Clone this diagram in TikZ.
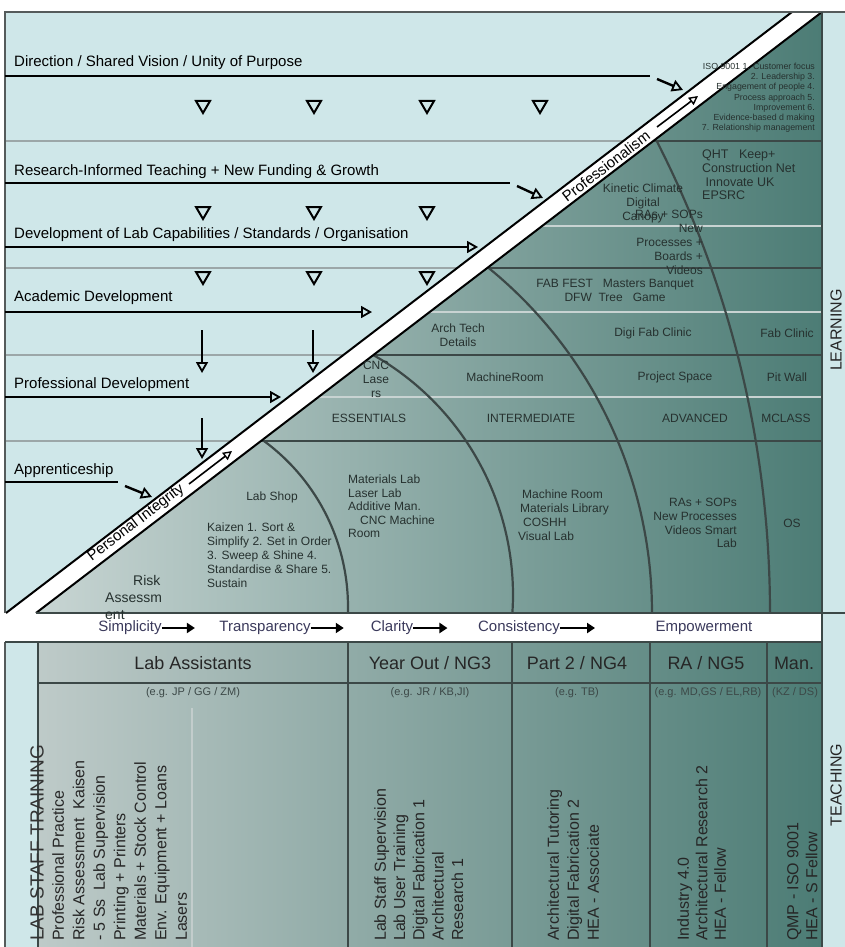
\documentclass[tikz,border=0pt]{standalone}
\usepackage{fontspec}
\setmainfont{Liberation Sans}
\usetikzlibrary{arrows.meta}
\definecolor{cyanbg}{HTML}{CFE7E9}
\definecolor{grayline}{HTML}{9CA7A8}
\definecolor{darkline}{HTML}{3C4847}
\definecolor{lightline}{HTML}{C8D3D2}
\definecolor{tealL}{HTML}{C8D5D3}
\definecolor{tealR}{HTML}{4C7C75}
\definecolor{celltxt}{HTML}{26312F}
\definecolor{bandtxt}{HTML}{3B3A5C}
\definecolor{faint}{HTML}{C3CDCC}
\definecolor{frame}{HTML}{555B5B}
\newcommand{\fsz}[2]{\fontsize{#1}{#2}\selectfont}
\tikzset{
  lbl/.style={anchor=west, inner sep=0pt, font=\fsz{15}{18}, text=black},
  cell/.style={inner sep=0pt, font=\fsz{12}{14}, text=celltxt},
  arrline/.style={line width=2.4pt, -{Triangle[open, length=11pt, width=12pt, line width=1.8pt]}},
  plainline/.style={line width=2.4pt},
  gline/.style={grayline, line width=2.2pt},
  dline/.style={darkline, line width=2pt},
  lline/.style={lightline, line width=2.4pt},
  arcline/.style={darkline, line width=2.2pt},
  vmark/.pic={\draw[line width=2pt, line join=miter] (-7,-6) -- (7,-6) -- (0,6) -- cycle;},
  bandarrow/.style={line width=1.6pt, -{Triangle[open, length=9pt, width=9pt, line width=1.4pt]}},
  wbarrow/.style={line width=2.6pt, -{Triangle[length=8pt, width=10pt]}},
  wbtext/.style={inner sep=0pt, font=\fsz{15}{18}, text=bandtxt},
  vtext/.style={rotate=90, anchor=north west, align=left, inner sep=0pt, text=black!85},
  hdr/.style={inner sep=0pt, font=\fsz{18}{20}, text=black!85},
  eg/.style={inner sep=0pt, font=\fsz{11}{13}, text=darkline},
  bandtext/.style={rotate=37.3, inner sep=0pt, font=\fsz{15}{18}, text=black},
}
\begin{document}
\begin{tikzpicture}[x=1pt,y=-1pt]
\useasboundingbox (0,0) rectangle (845,947);
\fill[white] (0,0) rectangle (845,947);
\fill[cyanbg] (5,12) rectangle (845,947);

% triangle and bottom panel fills
\shade[left color=tealL, right color=tealR] (36,612) -- (822,13) -- (822,612) -- cycle;
\shade[left color=tealL!95!black, right color=tealR] (38,642) rectangle (822,947);

% horizontal lines in cyan region
\draw[gline] (5,141) -- (634,141);
\draw[gline] (5,268) -- (467,268);
\draw[gline] (5,355) -- (353,355);
\draw[gline] (5,441) -- (240,441);
% horizontal lines in triangle
\draw[dline] (644,141) -- (822,141);
\draw[dline] (477,268) -- (822,268);
\draw[dline] (363,355) -- (822,355);
\draw[dline] (250,441) -- (822,441);
\draw[lline] (532,226) -- (822,226);
\draw[lline] (420,312) -- (822,312);
\draw[lline] (308,397) -- (822,397);

% arcs
\draw[arcline] plot[domain=27.05:0, samples=30, smooth] ({-266+1036*cos(\x)},{612-1036*sin(\x)});
\draw[arcline] plot[domain=50.9:0, samples=30, smooth] ({208+444*cos(\x)},{612-444*sin(\x)});
\draw[arcline] plot[domain=60.5:-3.5, samples=30, smooth] ({237+276*cos(\x)},{595-276*sin(\x)});
\draw[arcline] plot[domain=54.1:-1.4, samples=30, smooth] ({142+206*cos(\x)},{607-206*sin(\x)});

% down markers
\foreach \mx in {203,314,427,540} \pic at (\mx,107) {vmark};
\foreach \mx in {203,314,427} \pic at (\mx,213) {vmark};
\foreach \mx in {203,314,427} \pic at (\mx,278) {vmark};

% white horizontal band
\fill[white] (5,613) rectangle (822,642);

% diagonal band
\fill[white] (6,613) -- (36,613) -- (822,12) -- (792,12) -- cycle;
\draw[black, line width=2pt] (6,613) -- (792,12);
\draw[black, line width=2pt] (36,613) -- (822,12);

% frame
\draw[frame, line width=2pt] (5,613) -- (5,12) -- (845,12);
\draw[frame, line width=2pt] (5,642) -- (5,947);
\draw[darkline, line width=2pt] (822,12) -- (822,947);
\draw[darkline, line width=1.6pt] (822,613) -- (845,613);
\draw[dline] (36,613) -- (822,613);
\draw[dline] (5,642) -- (822,642);
\draw[dline] (38,683) -- (822,683);
\foreach \cx in {38,348,512,650,767} \draw[dline] (\cx,642) -- (\cx,947);
\draw[faint, line width=2pt] (192,708) -- (192,947);

% cyan region labels and arrows
\node[lbl] (tDir) at (14,63) {Direction / Shared Vision / Unity of Purpose};
\node[lbl] (tRes) at (14,172) {Research-Informed Teaching + New Funding \& Growth};
\node[lbl] (tDev) at (14,235) {Development of Lab Capabilities / Standards / Organisation};
\node[lbl] (tAca) at (14,298) {Academic Development};
\node[lbl] (tPro) at (14,385) {Professional Development};
\node[lbl] (tApp) at (14,471) {Apprenticeship};

\draw[plainline] (5,76) -- (650,76);
\draw[arrline] (657,79) -- (683,90);
\draw[plainline] (5,183) -- (510,183);
\draw[arrline] (517,186) -- (543,198);
\draw[arrline] (5,247) -- (478,247);
\draw[arrline] (5,312) -- (372,312);
\draw[arrline] (5,397) -- (281,397);
\draw[plainline] (5,482) -- (118,482);
\draw[arrline] (125,486) -- (152,497);
\draw[arrline] (202,330) -- (202,373);
\draw[arrline] (313,330) -- (313,373);
\draw[arrline] (202,418) -- (202,459);

% band texts
\node[bandtext] (tProf) at (606,166) {Professionalism};
\node[bandtext] (tPI) at (136,523) {Personal Integrity};
\draw[bandarrow] (657,127) -- (698,96);
\draw[bandarrow] (189,484) -- (232,451);

% triangle cell texts
\node[inner sep=0pt, anchor=north east, align=right, font=\fsz{8.8}{10.2}, text=celltxt] (tIso) at (815,63)
  {ISO 9001 1. Customer focus\\2. Leadership 3.\\Engagement of people 4.\\Process approach 5.\\Improvement 6.\\Evidence-based d making\\7. Relationship management};
\node[cell, align=center] (tKin) at (643,203) {Kinetic Climate\\Digital\\Canopy};
\node[cell, anchor=north west, align=left, font=\fsz{12.5}{13.6}] (tQht) at (702,150) {QHT\ \ \ Keep+\\Construction Net\\\ Innovate UK\\EPSRC};
\node[cell, anchor=north east, align=right] (tRas) at (703,210) {RAs + SOPs\\New\\Processes +\\Boards +\\Videos};
\node[cell, align=center] (tFab) at (615,290) {FAB FEST\ \ \ Masters Banquet\\DFW\ \ Tree\ \ \ Game};
\node[cell, align=center] (tArch) at (458,335) {Arch Tech\\Details};
\node[cell] (tDigi) at (653,333) {Digi Fab Clinic};
\node[cell] (tFabC) at (787,333) {Fab Clinic};
\node[cell, align=center] (tCnc) at (376,379) {CNC\\Lase\\rs};
\node[cell] (tMach) at (505,377) {MachineRoom};
\node[cell] (tProj) at (675,377) {Project Space};
\node[cell] (tPit) at (787,377) {Pit Wall};
\node[cell] (tEss) at (369,418) {ESSENTIALS};
\node[cell] (tInt) at (531,418) {INTERMEDIATE};
\node[cell] (tAdv) at (695,418) {ADVANCED};
\node[cell] (tMcl) at (786,418) {MCLASS};
\node[cell] (tLab) at (272,497) {Lab Shop};
\node[cell, anchor=north west, align=left] (tKai) at (207,523)
  {Kaizen 1. Sort \&\\Simplify 2. Set in Order\\3. Sweep \& Shine 4.\\Standardise \& Share 5.\\Sustain};
\node[cell, anchor=north west, align=left, font=\fsz{14}{17}] (tRisk) at (105,575) {\hspace*{28pt}Risk\\Assessm\\ent};
\node[cell, anchor=north west, align=left, font=\fsz{12}{13.5}] (tMat) at (348,475)
  {Materials Lab\\Laser Lab\\Additive Man.\\\hspace*{12pt}CNC Machine\\Room};
\node[cell, anchor=north west, align=left, font=\fsz{12}{13.7}] (tMR) at (518,490)
  {\hspace*{4pt}Machine Room\\\hspace*{2pt}Materials Library\\\hspace*{5pt}COSHH\\Visual Lab};
\node[cell, anchor=north east, align=right, font=\fsz{12}{13.8}] (tRas2) at (737,498)
  {RAs + SOPs\\New Processes\\Videos Smart\\Lab};
\node[cell] (tOs) at (792,523) {OS};

% white band texts
\node[wbtext] (s1) at (130,628) {Simplicity};
\node[wbtext] (s2) at (265,628) {Transparency};
\node[wbtext] (s3) at (392,628) {Clarity};
\node[wbtext] (s4) at (519,628) {Consistency};
\node[wbtext] (s5) at (704,628) {Empowerment};
\draw[wbarrow] (s1.east) -- ++(33,0);
\draw[wbarrow] (s2.east) -- ++(33,0);
\draw[wbarrow] (s3.east) -- ++(34,0);
\draw[wbarrow] (s4.east) -- ++(35,0);

% headers
\node[hdr] (h1) at (193,663) {Lab Assistants};
\node[hdr] (h2) at (430,663) {Year Out / NG3};
\node[hdr] (h3) at (577,663) {Part 2 / NG4};
\node[hdr] (h4) at (706,663) {RA / NG5};
\node[hdr] (h5) at (794,663) {Man.};
\node[eg] (e1) at (193,693) {(e.g. JP / GG / ZM)};
\node[eg] (e2) at (430,693) {(e.g. JR / KB,JI)};
\node[eg] (e3) at (577,693) {(e.g. TB)};
\node[eg] (e4) at (708,693) {(e.g. MD,GS / EL,RB)};
\node[eg] (e5) at (795,693) {(KZ / DS)};

% vertical texts
\node[rotate=90, anchor=west, inner sep=0pt, font=\fsz{19}{22}, text=black!80] (lst) at (37,941) {LAB STAFF TRAINING};
\node[vtext, font=\fsz{16}{20.5}] (v1) at (52,941)
  {Professional Practice\\Risk Assessment\ \ Kaisen\\- 5 Ss\ \ Lab Supervision\\Printing + Printers\\Materials + Stock Control\\Env. Equipment + Loans\\Lasers};
\node[vtext, font=\fsz{16}{19.3}] (v2) at (374,941)
  {Lab Staff Supervision\\Lab User Training\\Digital Fabrication 1\\Architectural\\Research 1};
\node[vtext, font=\fsz{16}{20}] (v3) at (547,941)
  {Architectural Tutoring\\Digital Fabrication 2\\HEA - Associate};
\node[vtext, font=\fsz{16}{18.5}] (v4) at (677,941)
  {Industry 4.0\\Architectural Research 2\\HEA - Fellow};
\node[vtext, font=\fsz{16}{19}] (v5) at (787,941)
  {QMP - ISO 9001\\HEA - S Fellow};

% side labels
\node[rotate=90, inner sep=0pt, font=\fsz{16}{18}, text=black!85] (learn) at (836,330) {LEARNING};
\node[rotate=90, inner sep=0pt, font=\fsz{16}{18}, text=black!85] (teach) at (836,785) {TEACHING};
\end{tikzpicture}
\end{document}
